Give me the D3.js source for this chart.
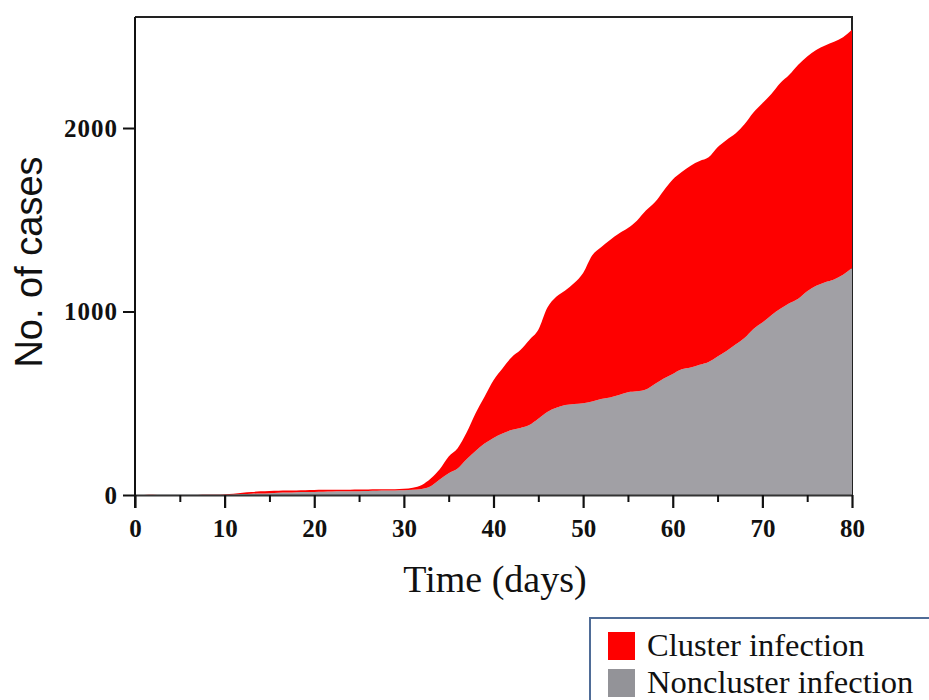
<!DOCTYPE html>
<html>
<head>
<meta charset="utf-8">
<script src="https://cdn.jsdelivr.net/npm/d3@7"></script>
<style>
  html, body { margin: 0; padding: 0; background: #fff; }
  svg { display: block; }
</style>
</head>
<body>
<svg id="chart" width="929" height="700"></svg>
<script>
// ---- data ----
const days = d3.range(0, 81);
const nonclusterCases = [
  0,0,0,1,1,1,1,1,2,2,
  2,3,5,7,8,10,12,13,15,16,
  17,18,19,20,21,21,22,23,24,25,
  26,28,33,48,85,119,145,195,240,280,
  311,335,354,365,381,415,452,475,490,496,
  500,510,523,532,545,560,565,575,605,635,
  660,685,695,710,725,755,785,820,855,905,
  940,980,1015,1045,1070,1110,1140,1160,1175,1200,
  1237
];
const clusterCases = [
  0,0,1,0,0,1,1,1,1,1,
  2,4,7,9,12,12,11,11,10,10,
  10,10,9,9,8,9,8,8,7,7,
  8,12,22,42,55,91,110,145,205,255,
  314,355,396,425,464,485,568,605,625,659,
  710,795,827,858,880,895,930,975,990,1025,
  1060,1075,1100,1110,1115,1140,1150,1150,1165,1180,
  1195,1205,1230,1245,1275,1280,1285,1290,1295,1295,
  1298
];
const seriesNames = ["Noncluster infection", "Cluster infection"];
const seriesColors = { "Noncluster infection": "#a1a0a5", "Cluster infection": "#fe0000" };
const xTicks = [0, 10, 20, 30, 40, 50, 60, 70, 80];
const xMinorTicks = [5, 15, 25, 35, 45, 55, 65, 75];
const yTicks = [0, 1000, 2000];
const legendOrder = ["Cluster infection", "Noncluster infection"];

// ---- layout ----
const svg = d3.select("#chart");
const L = 135, R = 852, T = 17, B = 495;
const x = d3.scaleLinear().domain([0, 80]).range([L, R]);
const y = d3.scaleLinear().domain([0, 2605]).range([B, T]);

const rows = days.map((d, i) => ({
  day: d,
  "Noncluster infection": nonclusterCases[i],
  "Cluster infection": clusterCases[i]
}));
const stacked = d3.stack().keys(seriesNames)(rows);

// frame (top and right)
svg.append("line").attr("x1", L).attr("x2", R + 1).attr("y1", T).attr("y2", T)
  .attr("stroke", "#222").attr("stroke-width", 2);
svg.append("line").attr("x1", R).attr("x2", R).attr("y1", T).attr("y2", B)
  .attr("stroke", "#222").attr("stroke-width", 2);

// areas
const area = d3.area()
  .x(d => x(d.data.day))
  .y0(d => y(d[0]))
  .y1(d => y(d[1]))
  .curve(d3.curveMonotoneX);

svg.append("g").selectAll("path")
  .data(stacked)
  .join("path")
  .attr("d", area)
  .attr("fill", d => seriesColors[d.key]);

const tickFont = "'Liberation Serif', 'Times New Roman', serif";

// x axis
const xAxis = svg.append("g").attr("transform", `translate(0,${B})`)
  .call(d3.axisBottom(x).tickValues(xTicks).tickFormat(d3.format("d"))
    .tickSize(13).tickPadding(11).tickSizeOuter(0));
xAxis.select(".domain").attr("stroke", "#333").attr("stroke-width", 2);
xAxis.selectAll(".tick line").attr("stroke", "#111").attr("stroke-width", 2.2);
xAxis.selectAll(".tick text")
  .attr("font-family", tickFont)
  .attr("font-weight", "bold").attr("font-size", 25).attr("fill", "#111");

svg.append("g").attr("transform", `translate(0,${B})`)
  .call(d3.axisBottom(x).tickValues(xMinorTicks).tickSize(7).tickFormat(""))
  .call(g => g.select(".domain").remove())
  .selectAll(".tick line").attr("stroke", "#111").attr("stroke-width", 2);

// y axis
const yAxis = svg.append("g").attr("transform", `translate(${L},0)`)
  .call(d3.axisLeft(y).tickValues(yTicks).tickFormat(d3.format("d"))
    .tickSize(12).tickPadding(5).tickSizeOuter(0));
yAxis.select(".domain").attr("stroke", "#111").attr("stroke-width", 2)
  .attr("d", `M0,${T}V${B + 13}`);
yAxis.selectAll(".tick line").attr("stroke", "#111").attr("stroke-width", 2);
yAxis.selectAll(".tick text")
  .attr("font-family", tickFont)
  .attr("font-weight", "bold").attr("font-size", 25).attr("fill", "#111")
  .attr("letter-spacing", 1);

// axis titles
svg.append("text")
  .attr("x", 495).attr("y", 592)
  .attr("text-anchor", "middle")
  .attr("font-family", tickFont)
  .attr("font-size", 38).attr("fill", "#111")
  .text("Time (days)");

svg.append("text")
  .attr("transform", `translate(42,${262}) rotate(-90)`)
  .attr("text-anchor", "middle")
  .attr("font-family", "'Liberation Sans', Arial, sans-serif")
  .attr("font-size", 38).attr("fill", "#111")
  .text("No. of cases");

// legend
const lg = svg.append("g");
lg.append("rect")
  .attr("x", 590).attr("y", 618).attr("width", 360).attr("height", 100)
  .attr("fill", "#fff").attr("stroke", "#4f6c97").attr("stroke-width", 2);
legendOrder.forEach((name, i) => {
  const yy = 632 + i * 37;
  lg.append("rect").attr("x", 608).attr("y", yy).attr("width", 27).attr("height", 28)
    .attr("fill", name === "Cluster infection" ? "#fe0000" : "#939398");
  lg.append("text").attr("x", 647).attr("y", yy + 24)
    .attr("font-family", tickFont)
    .attr("font-size", 32.5).attr("fill", "#111")
    .text(name);
});
</script>
</body>
</html>
